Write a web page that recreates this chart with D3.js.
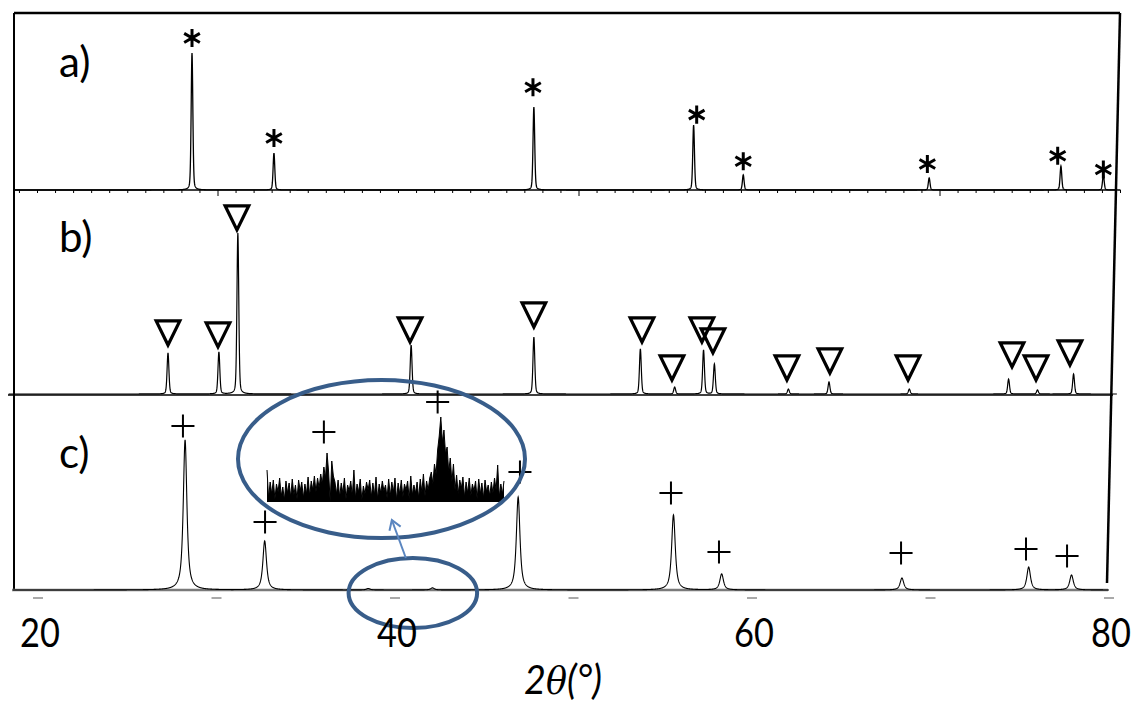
<!DOCTYPE html>
<html>
<head>
<meta charset="utf-8">
<script src="https://cdn.jsdelivr.net/npm/d3@7"></script>
<style>
  body { margin: 0; background: #fff; }
  svg { display: block; }
</style>
</head>
<body>
<svg id="chart" width="1136" height="706"></svg>
<script>
// ---- Pattern a): reflections (2θ, °) and relative intensities ----
const thetaA = [28.56, 33.10, 47.50, 56.35, 59.10, 69.40, 76.70, 79.05];
const intensityA = [100, 27, 60.6, 47.4, 11, 8.8, 17.5, 11];
const starTheta = [28.56, 33.10, 47.45, 56.52, 59.10, 69.30, 76.52, 79.05];
const starLevel = [111, 38, 75, 55, 21, 19, 25, 15];

// ---- Pattern b) ----
const thetaB = [27.23, 30.05, 31.10, 40.70, 47.50, 53.40, 55.30, 56.90, 57.50, 61.60, 63.85, 68.30, 73.80, 75.40, 77.40];
const intensityB = [25.5, 26, 100, 30.4, 35.4, 28, 4.3, 27.3, 18.6, 3.1, 7.5, 3.1, 9.3, 2.5, 12.4];
const triTheta = [27.23, 30.0, 31.05, 40.64, 47.5, 53.49, 55.15, 56.81, 57.42, 61.52, 63.9, 68.23, 73.99, 75.32, 77.2];
const triLevel = [30.4, 29.2, 101.9, 32.3, 41.6, 32.3, 8.7, 32.3, 25.5, 8.7, 13.0, 8.7, 16.8, 8.7, 18.0];

// ---- Pattern c) ----
const thetaC = [28.24, 32.70, 38.50, 42.10, 46.90, 55.60, 58.30, 68.40, 75.50, 77.90];
const intensityC = [100, 32.7, 1.0, 1.4, 62, 50, 10.7, 8, 15.3, 10];
const plusTheta = [28.12, 32.72, 47.0, 55.46, 58.15, 68.35, 75.35, 77.65];
const plusLevel = [109.3, 45.3, 78.7, 64.7, 25.3, 24.7, 27.3, 22.7];

// ---- Enlarged window of pattern c) (counts every 0.05° from 36.6°) ----
const insetStart = 36.6;
const insetStep = 0.05;
const insetCounts = [
  32, 4, 20, 8, 22, 3, 18, 10, 24, 6,
  15, 2, 21, 9, 19, 5, 23, 7, 17, 3,
  22, 11, 20, 4, 18, 8, 25, 6, 21, 12,
  26, 10, 24, 14, 28, 18, 35, 24, 49, 30,
  0, 41, 26, 20, 8, 22, 5, 19, 9, 24,
  3, 17, 11, 21, 6, 32, 4, 18, 10, 23,
  2, 16, 8, 20, 12, 22, 5, 19, 7, 25,
  3, 18, 9, 21, 11, 17, 4, 23, 6, 20,
  10, 24, 2, 19, 8, 22, 5, 18, 12, 21,
  3, 26, 7, 17, 9, 20, 4, 23, 10, 28,
  6, 21, 12, 24, 30, 18, 38, 28, 52, 66,
  85, 60, 72, 48, 55, 30, 44, 20, 38, 12,
  27, 8, 22, 14, 25, 5, 20, 9, 24, 6,
  18, 11, 21, 3, 23, 8, 19, 4, 22, 10,
  17, 6, 20, 9, 24, 12, 37, 5, 18, 8,
  21
];
const insetPlusTheta = [38.4, 42.0];
const insetPlusLevel = [70, 100];
const calloutRange = [37.4, 44.6];

const xTicks = [20, 40, 60, 80];
const panelLabels = ["a)", "b)", "c)"];

// ---------------------------------------------------------------
const svg = d3.select("#chart");
const frame = { left: 14, top: 13, right: 1120, rightBottom: 1107, bottom: 590 };

// horizontal scales (upper two patterns share one, the lower one is slightly tighter)
const xAB = d3.scaleLinear().domain([20, 80]).range([37.5, 1120.5]);
const xC = d3.scaleLinear().domain([20, 80]).range([38, 1109]);

// vertical scales, one per stacked pattern
const yA = d3.scaleLinear().domain([0, 100]).range([190, 53]);
const yB = d3.scaleLinear().domain([0, 100]).range([394, 233]);
const yC = d3.scaleLinear().domain([0, 100]).range([590, 440]);

// inset scales
const insetEnd = insetStart + insetStep * (insetCounts.length - 1);
const xI = d3.scaleLinear().domain([insetStart, insetEnd]).range([267, 504]);
const yI = d3.scaleLinear().domain([0, 100]).range([502, 402]);

// pseudo-Voigt sum of the listed reflections
function profile(thetas, heights, fwhm, eta, lo, hi, step) {
  const pts = [];
  const n = Math.round((hi - lo) / step);
  for (let i = 0; i <= n; i++) {
    const t = lo + i * step;
    let v = 0;
    for (let k = 0; k < thetas.length; k++) {
      const d = (t - thetas[k]) / (fwhm / 2);
      const d2 = d * d;
      v += heights[k] * (eta / (1 + d2) + (1 - eta) * Math.exp(-Math.LN2 * d2));
    }
    pts.push([t, v]);
  }
  return pts;
}

// ---- frame ----
const frameG = svg.append("g").attr("stroke", "#000").attr("fill", "none");
frameG.append("line").attr("x1", frame.left).attr("y1", frame.top).attr("x2", frame.right).attr("y2", frame.top).attr("stroke-width", 2.5);
frameG.append("line").attr("x1", frame.left).attr("y1", frame.top).attr("x2", frame.left).attr("y2", frame.bottom).attr("stroke-width", 2);
frameG.append("line").attr("x1", frame.right).attr("y1", frame.top).attr("x2", frame.rightBottom).attr("y2", 583).attr("stroke-width", 2.5);

// baseline of a) with degree ticks
frameG.append("line").attr("x1", frame.left).attr("y1", yA(0)).attr("x2", 1117).attr("y2", yA(0)).attr("stroke-width", 1.5);
const tickDeg = d3.range(19, 81);
frameG.selectAll(".tickA").data(tickDeg).join("line")
  .attr("class", "tickA")
  .attr("x1", d => xAB(d)).attr("x2", d => xAB(d))
  .attr("y1", yA(0)).attr("y2", d => yA(0) + (d % 20 === 10 ? 6 : 3))
  .attr("stroke-width", 1);

// baseline of b)
frameG.append("line").attr("x1", 8).attr("y1", yB(0) + 1).attr("x2", 1113).attr("y2", yB(0) + 1).attr("stroke-width", 1.5);

// baseline of c) with small marks under the decades
svg.append("line").attr("x1", 12).attr("y1", yC(0)).attr("x2", 1108).attr("y2", yC(0))
  .attr("stroke", "#7a7a7a").attr("stroke-width", 2.5);
svg.selectAll(".tickC").data(d3.range(20, 81, 10)).join("line")
  .attr("class", "tickC")
  .attr("x1", d => xC(d) - 5).attr("x2", d => xC(d) + 5)
  .attr("y1", yC(0) + 8).attr("y2", yC(0) + 8)
  .attr("stroke", "#555").attr("stroke-width", 1);

// ---- diffraction patterns ----
const lineA = d3.line().x(d => xAB(d[0])).y(d => yA(d[1]));
const lineB = d3.line().x(d => xAB(d[0])).y(d => yB(d[1]));
const lineC = d3.line().x(d => xC(d[0])).y(d => yC(d[1]));

svg.append("path")
  .datum(profile(thetaA, intensityA, 0.11, 0.3, 18.75, 80.0, 0.01))
  .attr("d", lineA).attr("fill", "none").attr("stroke", "#000").attr("stroke-width", 1.3);
svg.append("path")
  .datum(profile(thetaB, intensityB, 0.12, 0.3, 18.4, 79.8, 0.01))
  .attr("d", lineB).attr("fill", "none").attr("stroke", "#000").attr("stroke-width", 1.2);
svg.append("path")
  .datum(profile(thetaC, intensityC, 0.24, 0.8, 18.6, 80.0, 0.01))
  .attr("d", lineC).attr("fill", "none").attr("stroke", "#000").attr("stroke-width", 1.1);

// ---- phase markers ----
const starSym = d3.symbol().type(d3.symbolAsterisk).size(230);
const plusSym = d3.symbol().type(d3.symbolPlus).size(175);
// inverted triangle anchored at its lower tip
const nabla = {
  draw(ctx, size) {
    const w = Math.sqrt(size), h = w * 1.02;
    ctx.moveTo(-w / 2, -h);
    ctx.lineTo(w / 2, -h);
    ctx.lineTo(0, 0);
    ctx.closePath();
  }
};
const triSym = d3.symbol().type(nabla).size(560);

svg.selectAll(".star").data(starTheta).join("path")
  .attr("class", "star")
  .attr("d", starSym)
  .attr("transform", (d, i) => `translate(${xAB(d)},${yA(starLevel[i])})`)
  .attr("fill", "none").attr("stroke", "#000").attr("stroke-width", 3);

svg.selectAll(".tri").data(triTheta).join("path")
  .attr("class", "tri")
  .attr("d", triSym)
  .attr("transform", (d, i) => `translate(${xAB(d)},${yB(triLevel[i])})`)
  .attr("fill", "none").attr("stroke", "#000").attr("stroke-width", 3.2).attr("stroke-linejoin", "miter");

svg.selectAll(".plus").data(plusTheta).join("path")
  .attr("class", "plus")
  .attr("d", plusSym)
  .attr("transform", (d, i) => `translate(${xC(d)},${yC(plusLevel[i])})`)
  .attr("fill", "none").attr("stroke", "#000").attr("stroke-width", 2);

// ---- callout: enlarged region of c) ----
const insetData = insetCounts.map((v, i) => [insetStart + i * insetStep, v]);
svg.append("path").datum(insetData)
  .attr("d", d3.area().x(d => xI(d[0])).y0(yI(0)).y1(d => yI(d[1])))
  .attr("fill", "#000");
svg.append("path").datum(insetData)
  .attr("d", d3.line().x(d => xI(d[0])).y(d => yI(d[1])))
  .attr("fill", "none").attr("stroke", "#000").attr("stroke-width", 1);

svg.selectAll(".iplus").data(insetPlusTheta).join("path")
  .attr("class", "iplus")
  .attr("d", plusSym)
  .attr("transform", (d, i) => `translate(${xI(d)},${yI(insetPlusLevel[i])})`)
  .attr("fill", "none").attr("stroke", "#000").attr("stroke-width", 2);

const ringColor = "#385d8a";
const [ix0, ix1] = xI.range();
const big = { cx: (ix0 + ix1) / 2 - 4, cy: yI(43), rx: (ix1 - ix0) / 2 + 25, ry: 79 };
const small = {
  cx: (xC(calloutRange[0]) + xC(calloutRange[1])) / 2,
  cy: yC(-2),
  rx: (xC(calloutRange[1]) - xC(calloutRange[0])) / 2,
  ry: 35
};
svg.append("ellipse").attr("cx", big.cx).attr("cy", big.cy).attr("rx", big.rx).attr("ry", big.ry)
  .attr("fill", "none").attr("stroke", ringColor).attr("stroke-width", 4);
svg.append("ellipse").attr("cx", small.cx).attr("cy", small.cy).attr("rx", small.rx).attr("ry", small.ry)
  .attr("fill", "none").attr("stroke", ringColor).attr("stroke-width", 4);

// arrow pointing from the small ring to the enlargement
const ax0 = small.cx - 7, ay0 = small.cy - small.ry;
const ax1 = ax0 - 14, ay1 = big.cy + big.ry - 18;
const ang = Math.atan2(ay1 - ay0, ax1 - ax0);
const headLen = 11, spread = Math.PI / 5.5;
const arrowColor = "#5b86c0";
svg.append("line").attr("x1", ax0).attr("y1", ay0).attr("x2", ax1).attr("y2", ay1)
  .attr("stroke", arrowColor).attr("stroke-width", 2);
svg.append("path")
  .attr("d", `M${ax1 - headLen * Math.cos(ang - spread)},${ay1 - headLen * Math.sin(ang - spread)}L${ax1},${ay1}L${ax1 - headLen * Math.cos(ang + spread)},${ay1 - headLen * Math.sin(ang + spread)}`)
  .attr("fill", "none").attr("stroke", arrowColor).attr("stroke-width", 2);

// ---- texts ----
const labelY = [77, 252, 468];
svg.selectAll(".plabel").data(panelLabels).join("text")
  .attr("class", "plabel")
  .attr("x", 59).attr("y", (d, i) => labelY[i])
  .attr("font-family", "Lato, 'Open Sans', sans-serif").attr("font-size", 42)
  .attr("fill", "#000")
  .text(d => d);

// tick numbers, slightly condensed
svg.selectAll(".xlabel").data(xTicks).join("text")
  .attr("class", "xlabel")
  .attr("transform", d => `translate(${xC(d) + 2},647) scale(0.86,1)`)
  .attr("text-anchor", "middle")
  .attr("font-family", "Lato, 'Open Sans', sans-serif").attr("font-size", 40)
  .attr("fill", "#000")
  .text(d => d);

const title = svg.append("text")
  .attr("transform", "translate(563,694) scale(0.92,1)")
  .attr("text-anchor", "middle")
  .attr("font-family", "Lato, 'Open Sans', sans-serif").attr("font-size", 41)
  .attr("font-style", "italic").attr("fill", "#000");
title.append("tspan").text("2");
title.append("tspan").attr("font-family", "'DejaVu Serif', serif").attr("font-size", 38).text("θ");
title.append("tspan").text("(°)");
</script>
</body>
</html>
